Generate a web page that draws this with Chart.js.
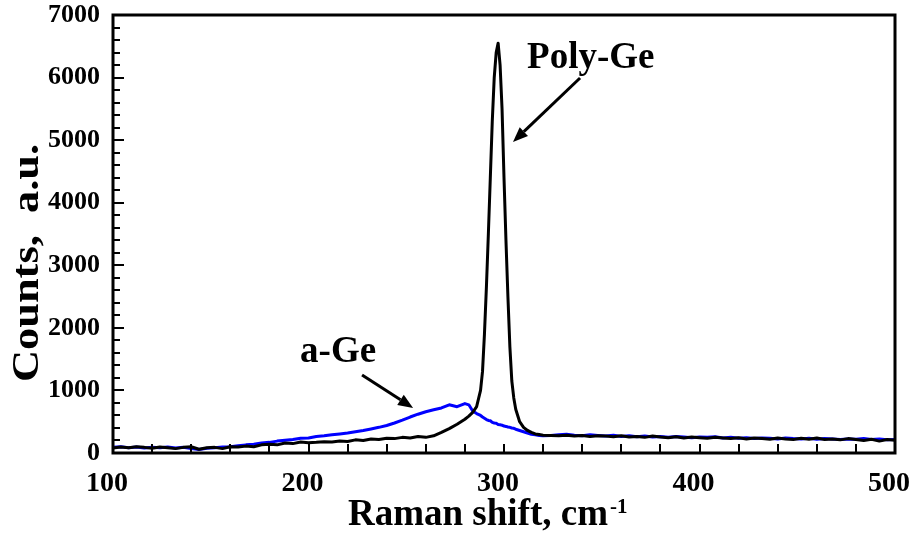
<!DOCTYPE html>
<html>
<head>
<meta charset="utf-8">
<script src="https://cdn.jsdelivr.net/npm/chart.js@4.4.1/dist/chart.umd.min.js"></script>
<style>
    html, body { margin: 0; padding: 0; background: #fff; }
    #grafico { display: block; }
</style>
</head>
<body>
<canvas id="grafico" width="917" height="535"></canvas>
<script>
// Datos (Raman shift en cm-1, cuentas en u.a.)
const ramanShift = [
    100, 104, 108, 112, 116, 120, 124, 128, 132, 136, 140, 144, 148, 152, 156, 160,
    164, 168, 172, 176, 180, 184, 188, 192, 196, 200, 204, 208, 212, 216, 220, 224,
    228, 232, 236, 240, 244, 248, 252, 256, 260, 264, 268, 272, 276, 280,
    282, 284, 286, 288, 289, 290, 291, 292, 293, 294, 295, 296, 297, 298, 299, 300,
    301, 302, 303, 304, 305, 306, 308, 310, 312, 314, 316, 318, 320,
    324, 328, 332, 336, 340, 344, 348, 352, 356, 360, 364, 368, 372, 376, 380, 384,
    388, 392, 396, 400, 404, 408, 412, 416, 420, 424, 428, 432, 436, 440, 444, 448,
    452, 456, 460, 464, 468, 472, 476, 480, 484, 488, 492, 496, 500
];

const polyGe = [
    80, 95, 85, 100, 90, 75, 95, 85, 70, 90, 100, 60, 85, 90, 70, 100,
    95, 110, 100, 130, 140, 130, 160, 150, 175, 165, 170, 180, 175, 190, 185, 210,
    200, 225, 215, 235, 230, 250, 240, 265, 250, 275, 330, 390, 460, 540,
    590, 650, 740, 1000, 1300, 1900, 2650, 3500, 4400, 5300, 6000, 6400, 6550, 6200, 5500, 4400,
    3400, 2500, 1700, 1150, 880, 700, 500, 410, 360, 330, 305, 295, 285,
    280, 275, 285, 270, 280, 265, 275, 270, 260, 275, 255, 265, 250, 270, 255, 245,
    260, 240, 255, 245, 235, 250, 240, 230, 245, 225, 240, 230, 220, 240, 225, 215,
    235, 220, 240, 215, 225, 210, 230, 215, 200, 220, 190, 215, 205
];

const aGe = [
    90, 100, 85, 95, 80, 90, 85, 95, 80, 90, 70, 55, 75, 85, 95, 100,
    115, 130, 140, 160, 170, 190, 205, 215, 235, 240, 265, 275, 290, 305, 320, 340,
    360, 385, 410, 440, 480, 525, 575, 620, 660, 690, 720, 770, 740, 790,
    770, 670, 630, 600, 575, 555, 535, 520, 515, 490, 480, 475, 455, 450, 445, 430,
    425, 415, 410, 400, 395, 380, 360, 340, 320, 300, 290, 280, 275,
    280, 290, 300, 285, 275, 290, 280, 270, 285, 265, 275, 260, 270, 255, 265, 250,
    265, 255, 245, 255, 250, 260, 240, 250, 235, 245, 230, 240, 235, 225, 240, 230,
    225, 235, 220, 230, 225, 215, 225, 220, 230, 215, 225, 210, 215
];

const xTickLabels = [100, 200, 300, 400, 500];
const yTickLabels = [0, 1000, 2000, 3000, 4000, 5000, 6000, 7000];

const fuente = '"Liberation Serif", "Times New Roman", serif';

const toPoints = serie => ramanShift.map((x, i) => ({ x: x, y: serie[i] }));

// Sin relleno extra por las etiquetas: el área del gráfico la fija layout.padding
function fijarEje(scale, lado, medida) {
    scale[lado] = medida;
    scale.paddingTop = 0;
    scale.paddingBottom = 0;
    scale.paddingLeft = 0;
    scale.paddingRight = 0;
}

// Flecha con punta rellena
function flecha(ctx, x1, y1, x2, y2) {
    const ang = Math.atan2(y2 - y1, x2 - x1);
    const largo = 15, ancho = 6;
    const bx = x2 - largo * Math.cos(ang), by = y2 - largo * Math.sin(ang);
    ctx.beginPath();
    ctx.moveTo(x1, y1);
    ctx.lineTo(bx, by);
    ctx.stroke();
    ctx.beginPath();
    ctx.moveTo(x2, y2);
    ctx.lineTo(bx + ancho * Math.sin(ang), by - ancho * Math.cos(ang));
    ctx.lineTo(bx - ancho * Math.sin(ang), by + ancho * Math.cos(ang));
    ctx.closePath();
    ctx.fill();
}

// Marco y ticks hacia adentro
const marcoPlugin = {
    id: 'marco',
    afterDatasetsDraw(chart) {
        const { ctx, chartArea: a, scales: { x, y } } = chart;
        ctx.save();
        ctx.strokeStyle = '#000';
        ctx.lineWidth = 2;
        x.ticks.forEach(t => {
            const px = Math.round(x.getPixelForValue(t.value));
            ctx.beginPath();
            ctx.moveTo(px, a.bottom);
            ctx.lineTo(px, a.bottom - 9);
            ctx.stroke();
        });
        y.ticks.forEach(t => {
            const py = Math.round(y.getPixelForValue(t.value));
            const largo = yTickLabels.includes(Math.round(t.value)) ? 11 : 7;
            ctx.beginPath();
            ctx.moveTo(a.left, py);
            ctx.lineTo(a.left + largo, py);
            ctx.stroke();
        });
        ctx.lineWidth = 3;
        ctx.strokeRect(a.left, a.top, a.right - a.left, a.bottom - a.top);
        ctx.restore();
    }
};

// Títulos de ejes y anotaciones
const textosPlugin = {
    id: 'textos',
    afterDraw(chart) {
        const { ctx, scales: { x, y } } = chart;
        ctx.save();
        ctx.fillStyle = '#000';
        ctx.strokeStyle = '#000';
        ctx.lineWidth = 3;
        ctx.textBaseline = 'alphabetic';

        ctx.font = 'bold 37px ' + fuente;
        ctx.fillText('Poly-Ge', x.getPixelForValue(311.8), y.getPixelForValue(6153));
        ctx.fillText('a-Ge', x.getPixelForValue(195.7), y.getPixelForValue(1454));
        flecha(ctx, x.getPixelForValue(338.9), y.getPixelForValue(5993),
                    x.getPixelForValue(304.6), y.getPixelForValue(4970));
        flecha(ctx, x.getPixelForValue(227.4), y.getPixelForValue(1247),
                    x.getPixelForValue(253.5), y.getPixelForValue(719));

        // Eje X con superíndice
        const tituloX = 'Raman shift, cm';
        ctx.font = 'bold 37px ' + fuente;
        const w = ctx.measureText(tituloX).width;
        ctx.fillText(tituloX, 348, 525);
        ctx.font = 'bold 21px ' + fuente;
        ctx.fillText('-1', 348 + w + 2, 513);

        // Eje Y rotado
        ctx.translate(38, 263);
        ctx.rotate(-Math.PI / 2);
        ctx.scale(1.2, 1);
        ctx.font = 'bold 37px ' + fuente;
        ctx.textAlign = 'center';
        ctx.fillText('Counts,  a.u.', 0, 0);
        ctx.restore();
    }
};

new Chart(document.getElementById('grafico').getContext('2d'), {
    type: 'line',
    data: {
        datasets: [
            {
                label: 'Poly-Ge',
                data: toPoints(polyGe),
                borderColor: '#000000',
                borderWidth: 3,
                order: 0
            },
            {
                label: 'a-Ge',
                data: toPoints(aGe),
                borderColor: '#0000ff',
                borderWidth: 3,
                order: 1
            }
        ]
    },
    options: {
        responsive: false,
        animation: false,
        layout: { padding: { left: 0, right: 22, top: 15, bottom: 0 } },
        elements: {
            point: { radius: 0 },
            line: { tension: 0, borderJoinStyle: 'round', borderCapStyle: 'round' }
        },
        plugins: {
            legend: { display: false },
            tooltip: { enabled: false }
        },
        scales: {
            x: {
                type: 'linear',
                min: 100,
                max: 500,
                border: { display: false },
                grid: { display: false, drawTicks: false },
                ticks: {
                    stepSize: 20,
                    autoSkip: false,
                    maxRotation: 0,
                    padding: 14,
                    labelOffset: -6,
                    color: '#000',
                    font: { family: fuente, size: 28, weight: 'bold' },
                    callback: v => xTickLabels.includes(Math.round(v)) ? String(Math.round(v)) : ''
                },
                afterFit: scale => fijarEje(scale, 'height', 82)
            },
            y: {
                min: 0,
                max: 7000,
                border: { display: false },
                grid: { display: false, drawTicks: false },
                ticks: {
                    stepSize: 200,
                    autoSkip: false,
                    padding: 13,
                    color: '#000',
                    font: { family: fuente, size: 26, weight: 'bold' },
                    callback: v => yTickLabels.includes(Math.round(v)) ? String(Math.round(v)) : ''
                },
                afterFit: scale => fijarEje(scale, 'width', 113)
            }
        }
    },
    plugins: [marcoPlugin, textosPlugin]
});
</script>
</body>
</html>
